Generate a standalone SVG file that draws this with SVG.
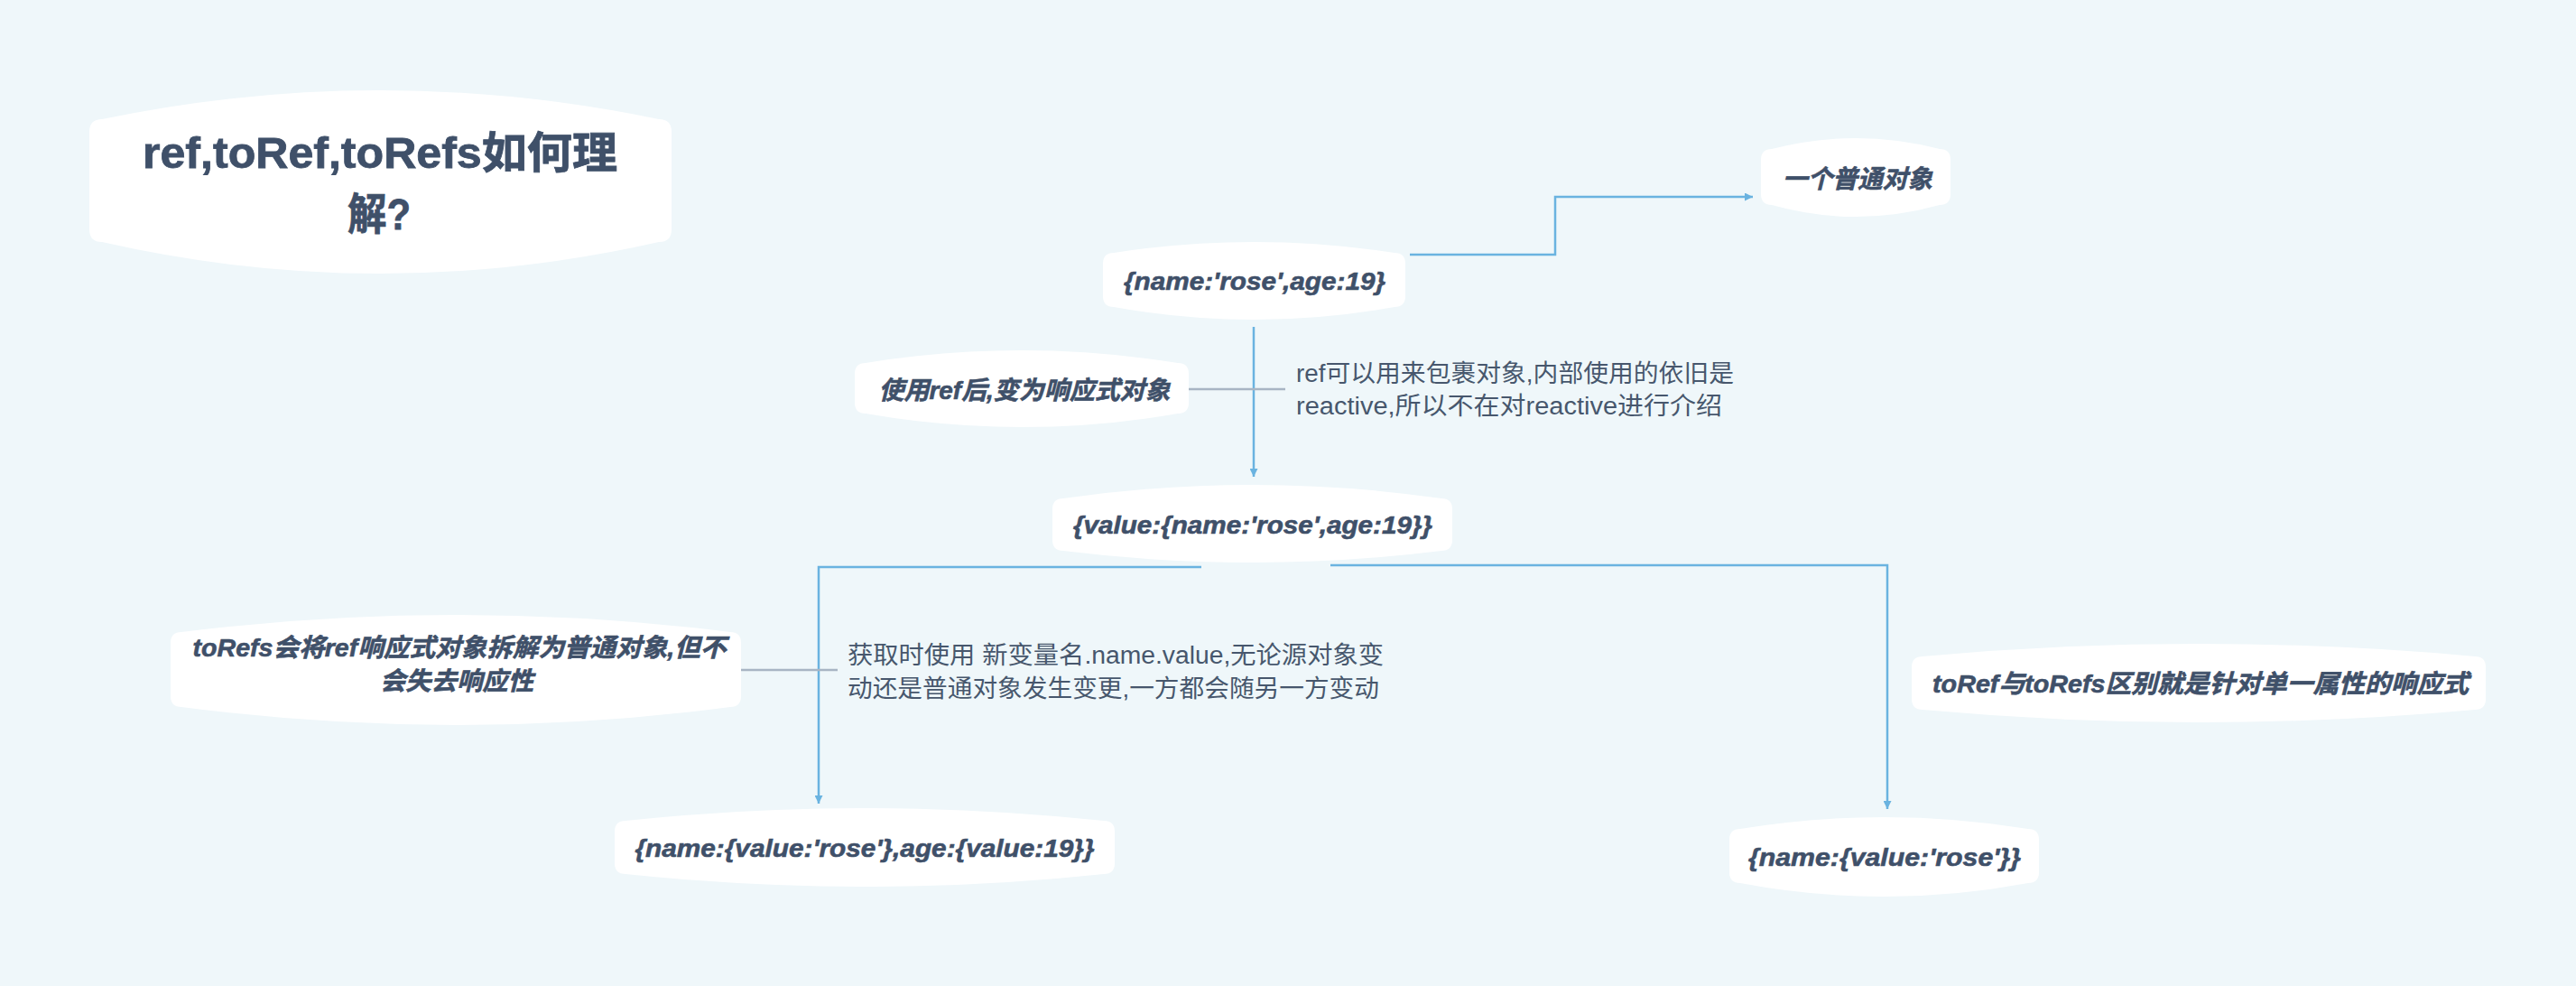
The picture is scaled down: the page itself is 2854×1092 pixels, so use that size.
<svg xmlns="http://www.w3.org/2000/svg" width="2854" height="1092" viewBox="0 0 2854 1092">
<defs>
<style>
.bg{fill:#eff7fa}
.node{fill:#ffffff}
.t{font-family:"Liberation Sans","Noto Sans CJK SC",sans-serif;fill:#3f5069;stroke:#3f5069;stroke-width:0.6;font-weight:bold;font-style:italic;text-anchor:middle}
.title{font-family:"Liberation Sans","Noto Sans CJK SC",sans-serif;fill:#3f5069;stroke:#3f5069;stroke-width:0.8;font-weight:bold;text-anchor:middle;font-size:48px}
.lbl{font-family:"Liberation Sans","Noto Sans CJK SC",sans-serif;fill:#47576d;font-size:27px}
.c{fill:none;stroke:#6ab3e0;stroke-width:2.5}
.g{fill:none;stroke:#a8b5c4;stroke-width:2.5}
</style>
<marker id="arr" viewBox="0 0 10 10" refX="10" refY="5" markerWidth="9" markerHeight="9" markerUnits="userSpaceOnUse" orient="auto">
<path d="M0,0 L10,5 L0,10 z" fill="#6ab3e0"/>
</marker>
</defs>
<rect class="bg" x="0" y="0" width="2854" height="1092"/>

<g id="connectors">
<path class="c" d="M1562,282 H1723 V218 H1942" marker-end="url(#arr)"/>
<path class="c" d="M1389,362 V528" marker-end="url(#arr)"/>
<path class="g" d="M1317,431 H1424"/>
<path class="c" d="M1331,628 H907 V890" marker-end="url(#arr)"/>
<path class="c" d="M1474,626 H2091 V896" marker-end="url(#arr)"/>
<path class="g" d="M821,742 H928"/>
</g>

<g id="title">
<path class="node" d="M99,146 Q99,132 113,132 Q421,68 730,132 Q744,132 744,146 L744,254 Q744,268 730,268 Q421,338 113,268 Q99,268 99,254 Z"/>
<text class="title" x="421" y="186" textLength="526" lengthAdjust="spacingAndGlyphs">ref,toRef,toRefs如何理</text>
<text class="title" x="420" y="254" textLength="70" lengthAdjust="spacingAndGlyphs">解?</text>
</g>

<g id="n1">
<path class="node" d="M1222,292 Q1222,280 1234,280 Q1389,256 1545,280 Q1557,280 1557,292 L1557,328 Q1557,340 1545,340 Q1389,368 1234,340 Q1222,340 1222,328 Z"/>
<text class="t" x="1390" y="321" font-size="28" textLength="290" lengthAdjust="spacingAndGlyphs">{name:'rose',age:19}</text>
</g>

<g id="n2">
<path class="node" d="M1951,177 Q1951,165 1963,165 Q2056,141 2149,165 Q2161,165 2161,177 L2161,215 Q2161,227 2149,227 Q2056,253 1963,227 Q1951,227 1951,215 Z"/>
<text class="t" x="2058" y="208" font-size="28" textLength="166" lengthAdjust="spacingAndGlyphs">一个普通对象</text>
</g>

<g id="n3">
<path class="node" d="M947,414 Q947,402 959,402 Q1132,374 1305,402 Q1317,402 1317,414 L1317,446 Q1317,458 1305,458 Q1132,488 959,458 Q947,458 947,446 Z"/>
<text class="t" x="1135" y="442" font-size="28" textLength="323" lengthAdjust="spacingAndGlyphs">使用ref后,变为响应式对象</text>
</g>

<g id="label1">
<text class="lbl" x="1436" y="423" textLength="485" lengthAdjust="spacingAndGlyphs">ref可以用来包裹对象,内部使用的依旧是</text>
<text class="lbl" x="1436" y="459" textLength="472" lengthAdjust="spacingAndGlyphs">reactive,所以不在对reactive进行介绍</text>
</g>

<g id="n4">
<path class="node" d="M1166,564 Q1166,552 1178,552 Q1387,522 1597,552 Q1609,552 1609,564 L1609,598 Q1609,610 1597,610 Q1387,636 1178,610 Q1166,610 1166,598 Z"/>
<text class="t" x="1388" y="591" font-size="28" textLength="398" lengthAdjust="spacingAndGlyphs">{value:{name:'rose',age:19}}</text>
</g>

<g id="n5">
<path class="node" d="M189,712 Q189,700 201,700 Q505,662 809,700 Q821,700 821,712 L821,771 Q821,783 809,783 Q505,823 201,783 Q189,783 189,771 Z"/>
<text class="t" x="509" y="727" font-size="28" textLength="591" lengthAdjust="spacingAndGlyphs">toRefs会将ref响应式对象拆解为普通对象,但不</text>
<text class="t" x="506" y="764" font-size="28" textLength="170" lengthAdjust="spacingAndGlyphs">会失去响应性</text>
</g>

<g id="label2">
<text class="lbl" x="939" y="735" textLength="594" lengthAdjust="spacingAndGlyphs">获取时使用 新变量名.name.value,无论源对象变</text>
<text class="lbl" x="939" y="772" textLength="589" lengthAdjust="spacingAndGlyphs">动还是普通对象发生变更,一方都会随另一方变动</text>
</g>

<g id="n6">
<path class="node" d="M681,921 Q681,909 693,909 Q958,881 1223,909 Q1235,909 1235,921 L1235,956 Q1235,968 1223,968 Q958,996 693,968 Q681,968 681,956 Z"/>
<text class="t" x="958" y="949" font-size="28" textLength="509" lengthAdjust="spacingAndGlyphs">{name:{value:'rose'},age:{value:19}}</text>
</g>

<g id="n7">
<path class="node" d="M2118,739 Q2118,727 2130,727 Q2436,699 2742,727 Q2754,727 2754,739 L2754,774 Q2754,786 2742,786 Q2436,814 2130,786 Q2118,786 2118,774 Z"/>
<text class="t" x="2438" y="767" font-size="28" textLength="594" lengthAdjust="spacingAndGlyphs">toRef与toRefs区别就是针对单一属性的响应式</text>
</g>

<g id="n8">
<path class="node" d="M1916,930 Q1916,918 1928,918 Q2087,892 2247,918 Q2259,918 2259,930 L2259,966 Q2259,978 2247,978 Q2087,1008 1928,978 Q1916,978 1916,966 Z"/>
<text class="t" x="2088" y="959" font-size="28" textLength="302" lengthAdjust="spacingAndGlyphs">{name:{value:'rose'}}</text>
</g>
</svg>
